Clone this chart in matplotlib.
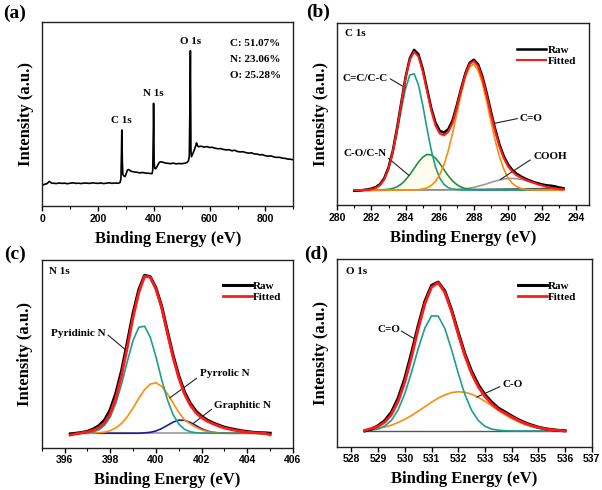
import matplotlib
matplotlib.use('Agg')
import matplotlib.pyplot as plt
from matplotlib.ticker import MultipleLocator

SERIF = 'Liberation Serif'
SANS = 'Liberation Sans'
plt.rcParams['font.family'] = SANS
plt.rcParams['font.weight'] = 'bold'

# ---------------- (a) survey spectrum ----------------
survey_be = [0, 5, 10, 15, 20, 25, 30, 35, 40, 50, 60, 70, 80, 90, 100, 110, 120, 130, 140, 150,
             160, 170, 180, 190, 200, 210, 220, 230, 240, 250, 260, 270, 275, 279, 282, 284, 285,
             286, 287, 289, 292, 296, 300, 305, 310, 315, 320, 330, 340, 350, 360, 370, 380, 390,
             394, 396, 398, 399, 400, 401, 403, 406, 410, 415, 420, 425, 430, 440, 450, 460, 470,
             480, 490, 500, 510, 518, 524, 527, 529, 531, 532, 533, 535, 540, 545, 550, 553, 556,
             560, 570, 580, 590, 600, 610, 620, 630, 640, 650, 660, 670, 680, 690, 700, 710, 720,
             730, 740, 750, 760, 770, 780, 790, 800, 810, 820, 830, 840, 850, 860, 870, 880, 890, 900]
survey_int = [11.3, 11.6, 11.9, 12.0, 12.6, 13.4, 12.8, 12.3, 12.4, 12.2, 12.5, 12.3, 12.4, 12.1,
              12.4, 12.6, 12.3, 12.4, 12.2, 12.5, 12.4, 12.3, 12.6, 12.4, 12.3, 12.5, 12.2, 12.4,
              12.6, 12.3, 12.5, 12.4, 12.5, 12.8, 15.0, 30.0, 41.3, 36.0, 24.0, 17.0, 16.5, 15.9,
              17.2, 19.5, 19.8, 19.2, 18.8, 18.5, 18.3, 18.0, 18.2, 17.9, 17.8, 17.6, 17.7, 19.5,
              40.0, 55.8, 44.0, 24.0, 20.5, 20.2, 21.0, 22.5, 23.8, 24.0, 23.9, 23.4, 23.2, 23.0,
              23.3, 22.9, 23.1, 23.0, 23.2, 23.6, 24.5, 27.0, 50.0, 84.4, 60.0, 30.0, 26.8, 28.5,
              30.5, 32.5, 34.3, 33.0, 32.2, 32.5, 32.0, 32.3, 31.8, 31.9, 31.4, 31.1, 31.2, 30.7,
              30.5, 30.6, 30.0, 30.3, 29.6, 29.4, 29.5, 29.0, 28.7, 28.9, 28.3, 28.2, 27.8, 27.9,
              27.3, 27.1, 27.2, 26.7, 26.4, 26.5, 26.0, 25.9, 25.5, 25.4, 25.1]
survey_peak_names = ['C 1s', 'N 1s', 'O 1s']
composition = ['C: 51.07%', 'N: 23.06%', 'O: 25.28%']

# ---------------- (b) C 1s ----------------
c1s_be = [281.0, 281.25, 281.5, 281.75, 282.0, 282.25, 282.5, 282.75, 283.0, 283.25, 283.5, 283.75,
          284.0, 284.25, 284.5, 284.75, 285.0, 285.25, 285.5, 285.75, 286.0, 286.25, 286.5, 286.75,
          287.0, 287.25, 287.5, 287.75, 288.0, 288.25, 288.5, 288.75, 289.0, 289.25, 289.5, 289.75,
          290.0, 290.25, 290.5, 290.75, 291.0, 291.25, 291.5, 291.75, 292.0, 292.25, 292.5, 292.75,
          293.0, 293.25]
c1s_raw = [-0.4, -0.3, 0.0, 0.3, 0.8, 1.6, 3.2, 6.5, 12.4, 21.5, 34.0, 48.2, 62.0, 72.3, 76.9, 74.5,
           66.6, 55.8, 45.0, 37.0, 32.5, 31.5, 33.4, 38.2, 46.5, 55.6, 64.0, 69.8, 71.5, 68.9, 62.3,
           53.2, 43.0, 33.4, 25.0, 18.6, 14.1, 11.0, 9.0, 7.5, 6.3, 5.3, 4.4, 3.7, 3.1, 2.6, 2.4,
           2.0, 1.4, 1.0]
c1s_fit = [0.0, 0.0, 0.0, 0.1, 0.4, 1.1, 2.7, 5.9, 11.7, 20.8, 33.1, 47.5, 61.5, 71.6, 75.8, 73.3,
           65.4, 54.6, 43.8, 35.5, 31.0, 30.0, 32.0, 36.8, 45.4, 54.8, 63.3, 69.1, 70.7, 67.9, 61.1,
           51.9, 41.7, 32.0, 23.8, 17.5, 13.0, 10.1, 8.1, 6.8, 5.7, 4.8, 4.0, 3.1, 2.5, 1.8, 1.3,
           0.9, 0.6, 0.4]
c1s_cc = [0, 0, 0, 0.1, 0.4, 1.1, 2.6, 5.7, 11.3, 19.9, 31.3, 44.2, 55.9, 63.1, 63.8, 57.8, 46.8,
          33.9, 22.0, 12.7, 6.6, 3.1, 1.3, 0.5, 0.2] + [0] * 25
c1s_co = [0] * 6 + [0.1, 0.2, 0.4, 0.9, 1.8, 3.3, 5.6, 8.5, 11.9, 15.3, 18.0, 19.5, 19.3, 17.5, 14.6,
                    11.2, 7.8, 5.0, 3.0, 1.6, 0.8, 0.4, 0.2, 0.1] + [0] * 20
c1s_cdo = [0] * 14 + [0.1, 0.2, 0.6, 1.2, 2.5, 4.7, 8.4, 13.9, 21.6, 31.1, 41.9, 52.7, 61.8, 67.6,
                      69.0, 65.7, 58.4, 48.5, 37.5, 27.1, 18.3, 11.5, 6.7, 3.7, 1.9, 0.9, 0.4, 0.2,
                      0.1] + [0] * 7
c1s_cooh = [0] * 22 + [0.1, 0.2, 0.3, 0.5, 0.7, 1.1, 1.5, 2.1, 2.7, 3.4, 4.2, 4.9, 5.5, 6.0, 6.3,
                       6.4, 6.2, 5.9, 5.3, 4.6, 3.9, 3.1, 2.5, 1.8, 1.3, 0.9, 0.6, 0.4]
c1s_base_be = [281.0, 293.25]
c1s_base = [-0.4, 1.0]

# ---------------- (c) N 1s ----------------
n1s_be = [396.25, 396.5, 396.75, 397.0, 397.25, 397.5, 397.75, 398.0, 398.25, 398.5, 398.75, 399.0,
          399.25, 399.5, 399.75, 400.0, 400.25, 400.5, 400.75, 401.0, 401.25, 401.5, 401.75, 402.0,
          402.25, 402.5, 402.75, 403.0, 403.25, 403.5, 403.75, 404.0, 404.25, 404.5, 404.75, 405.0]
n1s_raw = [-0.5, 0.0, 0.4, 1.0, 2.2, 4.0, 7.0, 12.5, 21.5, 33.5, 48.5, 64.0, 76.5, 84.2, 83.5, 77.5,
           67.8, 54.5, 41.6, 30.6, 22.0, 16.0, 11.8, 9.0, 7.0, 5.5, 4.3, 3.2, 2.5, 1.9, 1.3, 0.9,
           0.5, 0.3, 0.2, 0.0]
n1s_fit = [-1.0, -0.3, 0.2, 0.7, 1.6, 3.0, 5.5, 10.5, 19.0, 31.0, 46.0, 62.0, 75.0, 83.7, 83.3, 77.0,
           67.0, 53.5, 40.5, 29.5, 21.0, 15.0, 11.0, 8.3, 6.4, 5.0, 3.8, 2.8, 2.1, 1.5, 1.0, 0.6,
           0.3, 0.1, 0.0, -0.8]
n1s_pyridinic = [0, 0, 0, 0.2, 0.7, 1.8, 4.2, 8.7, 16.1, 26.4, 38.4, 49.5, 56.5, 57.1, 51.3, 40.8,
                 28.7, 18.0, 10.0, 4.9, 2.1, 0.8, 0.3, 0.1] + [0] * 12
n1s_pyrrolic = [0, 0, 0, 0, 0.1, 0.3, 0.6, 1.4, 2.9, 5.3, 8.9, 13.5, 18.6, 23.2, 26.2, 26.9, 25.0,
                21.1, 16.2, 11.2, 7.1, 5.0, 3.2, 1.8, 0.9, 0.4, 0.1] + [0] * 9
n1s_graphitic = [0] * 13 + [0.2, 0.5, 1.2, 2.5, 4.2, 5.9, 7.0, 6.9, 5.8, 4.1, 2.4, 1.2, 0.5, 0.2,
                            0.1] + [0] * 8
n1s_base_be = [396.25, 405.0]
n1s_base = [0.3, 0.3]

# ---------------- (d) O 1s ----------------
o1s_be = [528.5, 528.75, 529.0, 529.25, 529.5, 529.75, 530.0, 530.25, 530.5, 530.75, 531.0, 531.25,
          531.5, 531.75, 532.0, 532.25, 532.5, 532.75, 533.0, 533.25, 533.5, 533.75, 534.0, 534.25,
          534.5, 534.75, 535.0, 535.25, 535.5, 535.75, 536.0]
o1s_raw = [0.0, 1.0, 2.8, 5.5, 10.0, 17.5, 28.0, 41.5, 56.0, 69.0, 77.5, 79.3, 74.5, 64.5, 52.5,
           41.0, 31.8, 24.6, 19.3, 15.4, 12.2, 10.1, 8.0, 6.0, 4.4, 3.1, 2.0, 1.2, 0.7, 0.3, 0.1]
o1s_fit = [0.3, 1.3, 2.4, 4.7, 8.8, 15.8, 26.1, 39.4, 54.3, 67.7, 76.6, 79.0, 73.7, 63.7, 51.6,
           40.0, 30.6, 23.5, 18.3, 14.5, 11.4, 9.5, 7.5, 5.6, 4.0, 2.8, 1.8, 1.1, 0.6, 0.3, 0.0]
o1s_cdo = [0.1, 0.4, 1.0, 2.6, 5.7, 11.3, 19.9, 31.2, 43.8, 54.8, 61.3, 61.2, 54.5, 43.3, 30.7,
           19.4, 11.0, 5.6, 2.5, 1.0, 0.4, 0.1] + [0] * 9
o1s_co = [0.5, 0.9, 1.4, 2.1, 3.1, 4.5, 6.2, 8.2, 10.5, 12.9, 15.3, 17.5, 19.2, 20.4, 20.9, 20.6,
          19.6, 17.9, 15.8, 13.5, 11.0, 8.7, 6.6, 4.9, 3.4, 2.3, 1.5, 1.0, 0.6, 0.3, 0.2]
o1s_base_be = [528.5, 536.0]
o1s_base = [0.0, 0.0]

# ---------------- colours ----------------
TEAL = '#1f9d8f'
GREEN = '#1e9145'
ORANGE = '#ff8c0a'
GRAY = '#9a9a9a'
NAVY = '#1c1c9c'
RED = '#ff1a1a'

fig = plt.figure(figsize=(6.02, 4.90), dpi=100)
W, H = 602.0, 490.0


def make_axes(l, t, r, b):
    return fig.add_axes([l / W, 1 - b / H, (r - l) / W, (b - t) / H])


ax_a = make_axes(42.3, 22.0, 293.3, 206.0)
ax_b = make_axes(337.3, 22.7, 589.3, 205.0)
ax_c = make_axes(41.7, 260.0, 293.0, 447.5)
ax_d = make_axes(337.3, 259.0, 591.7, 446.7)


def style(ax, major, minor):
    ax.set_yticks([])
    ax.xaxis.set_major_locator(MultipleLocator(major))
    if minor:
        ax.xaxis.set_minor_locator(MultipleLocator(minor))
    ax.tick_params(axis='x', which='major', direction='out', length=3.5, width=1.0,
                   labelsize=7.5, pad=2, top=False)
    ax.tick_params(axis='x', which='minor', direction='out', length=2.0, width=0.8, top=False)
    for lbl in ax.get_xticklabels():
        lbl.set_fontweight('bold')
        lbl.set_family(SANS)
    for s in ax.spines.values():
        s.set_linewidth(1.0)
        s.set_color('#222222')
    ax.set_xlabel('Binding Energy (eV)', family=SERIF, fontweight='bold', fontsize=12, labelpad=5)
    ax.set_ylabel('Intensity (a.u.)', family=SERIF, fontweight='bold', fontsize=12, labelpad=6)


def label(ax, x, y, s, **kw):
    ax.text(x, y, s, family=SERIF, fontweight='bold', fontsize=8, **kw)


def leader(ax, p0, p1):
    ax.annotate('', xy=p1, xytext=p0,
                arrowprops=dict(arrowstyle='-', lw=0.8, color='#222222', shrinkA=0, shrinkB=0))


def legend(ax, raw_line, fit_line, x0, y0):
    ax.legend([raw_line, fit_line], ['Raw', 'Fitted'], loc='upper left', bbox_to_anchor=(x0, y0),
              frameon=False, prop=dict(family=SERIF, weight='bold', size=8), handlelength=2.6,
              handletextpad=0.1, labelspacing=0.1, borderpad=0, borderaxespad=0)


# (a)
ax_a.plot(survey_be, survey_int, color='black', lw=1.2)
ax_a.set_xlim(0, 900)
ax_a.set_ylim(0, 100)
style(ax_a, 200, 100)
label(ax_a, 283, 46.4, survey_peak_names[0], ha='center', va='center')
label(ax_a, 397, 60.9, survey_peak_names[1], ha='center', va='center')
label(ax_a, 531, 89.3, survey_peak_names[2], ha='center', va='center')
for i, s in enumerate(composition):
    label(ax_a, 672, 88.4 - 8.8 * i, s, ha='left', va='center')

# (b)
ax_b.fill_between(c1s_be, 0, c1s_co, color='#fefcec', lw=0, zorder=1)
ax_b.plot(c1s_base_be, c1s_base, color='#555555', lw=1.0, zorder=2)
ax_b.plot(c1s_be, c1s_cooh, color=GRAY, lw=1.2, zorder=2)
ax_b.plot(c1s_be, c1s_co, color=GREEN, lw=1.2, zorder=3)
ax_b.plot(c1s_be, c1s_cc, color=TEAL, lw=1.2, zorder=3)
ax_b.plot(c1s_be, c1s_cdo, color=ORANGE, lw=1.2, zorder=3)
lr, = ax_b.plot(c1s_be, c1s_raw, color='black', lw=1.8, zorder=4)
lf, = ax_b.plot(c1s_be, c1s_fit, color=RED, lw=1.5, zorder=5)
ax_b.set_xlim(280, 294.76)
ax_b.set_ylim(-8.2, 91.8)
style(ax_b, 2, 1)
label(ax_b, 280.45, 86.0, 'C 1s', ha='left', va='center')
legend(ax_b, lr, lf, 0.715, 0.875)
label(ax_b, 281.62, 61.3, 'C=C/C-C', ha='center', va='center')
leader(ax_b, (283.1, 61.0), (284.0, 56.0))
label(ax_b, 281.65, 20.2, 'C-O/C-N', ha='center', va='center')
leader(ax_b, (283.0, 17.4), (284.2, 8.0))
label(ax_b, 291.34, 39.4, 'C=O', ha='center', va='center')
leader(ax_b, (290.55, 39.2), (289.15, 36.5))
label(ax_b, 292.46, 18.3, 'COOH', ha='center', va='center')
leader(ax_b, (291.3, 16.5), (289.55, 5.8))

# (c)
ax_c.plot(n1s_base_be, n1s_base, color=GRAY, lw=1.2, zorder=2)
ax_c.plot(n1s_be, n1s_graphitic, color=NAVY, lw=1.2, zorder=3)
ax_c.plot(n1s_be, n1s_pyrrolic, color=ORANGE, lw=1.2, zorder=3)
ax_c.plot(n1s_be, n1s_pyridinic, color=TEAL, lw=1.2, zorder=3)
lr, = ax_c.plot(n1s_be, n1s_raw, color='black', lw=2.2, zorder=4)
lf, = ax_c.plot(n1s_be, n1s_fit, color=RED, lw=2.0, zorder=5)
ax_c.set_xlim(395, 406)
ax_c.set_ylim(-7.6, 92.4)
style(ax_c, 2, 1)
label(ax_c, 395.32, 86.2, 'N 1s', ha='left', va='center')
legend(ax_c, lr, lf, 0.72, 0.885)
label(ax_c, 396.6, 53.3, 'Pyridinic N', ha='center', va='center')
leader(ax_c, (397.9, 52.4), (398.72, 44.0))
label(ax_c, 403.03, 31.6, 'Pyrrolic N', ha='center', va='center')
leader(ax_c, (401.78, 29.3), (400.6, 18.8))
label(ax_c, 403.81, 14.7, 'Graphitic N', ha='center', va='center')
leader(ax_c, (402.44, 12.8), (401.63, 5.2))

# (d)
ax_d.plot(o1s_base_be, o1s_base, color='#555555', lw=1.0, zorder=2)
ax_d.plot(o1s_be, o1s_co, color=ORANGE, lw=1.2, zorder=3)
ax_d.plot(o1s_be, o1s_cdo, color=TEAL, lw=1.2, zorder=3)
lr, = ax_d.plot(o1s_be, o1s_raw, color='black', lw=2.2, zorder=4)
lf, = ax_d.plot(o1s_be, o1s_fit, color=RED, lw=2.0, zorder=5)
ax_d.set_xlim(527.47, 537)
ax_d.set_ylim(-8.4, 91.6)
style(ax_d, 1, None)
label(ax_d, 527.81, 84.8, 'O 1s', ha='left', va='center')
legend(ax_d, lr, lf, 0.71, 0.882)
label(ax_d, 529.41, 54.3, 'C=O', ha='center', va='center')
leader(ax_d, (529.87, 53.2), (530.37, 49.0))
label(ax_d, 534.03, 24.8, 'C-O', ha='center', va='center')
leader(ax_d, (533.56, 23.6), (532.69, 18.0))

# panel letters
for s, x, y in [('(a)', 3, 13), ('(b)', 306, 12), ('(c)', 4, 254), ('(d)', 304, 254)]:
    fig.text(x / W, 1 - y / H, s, family=SERIF, fontweight='bold', fontsize=14,
             ha='left', va='center')

fig.savefig('out.png', dpi=100)
